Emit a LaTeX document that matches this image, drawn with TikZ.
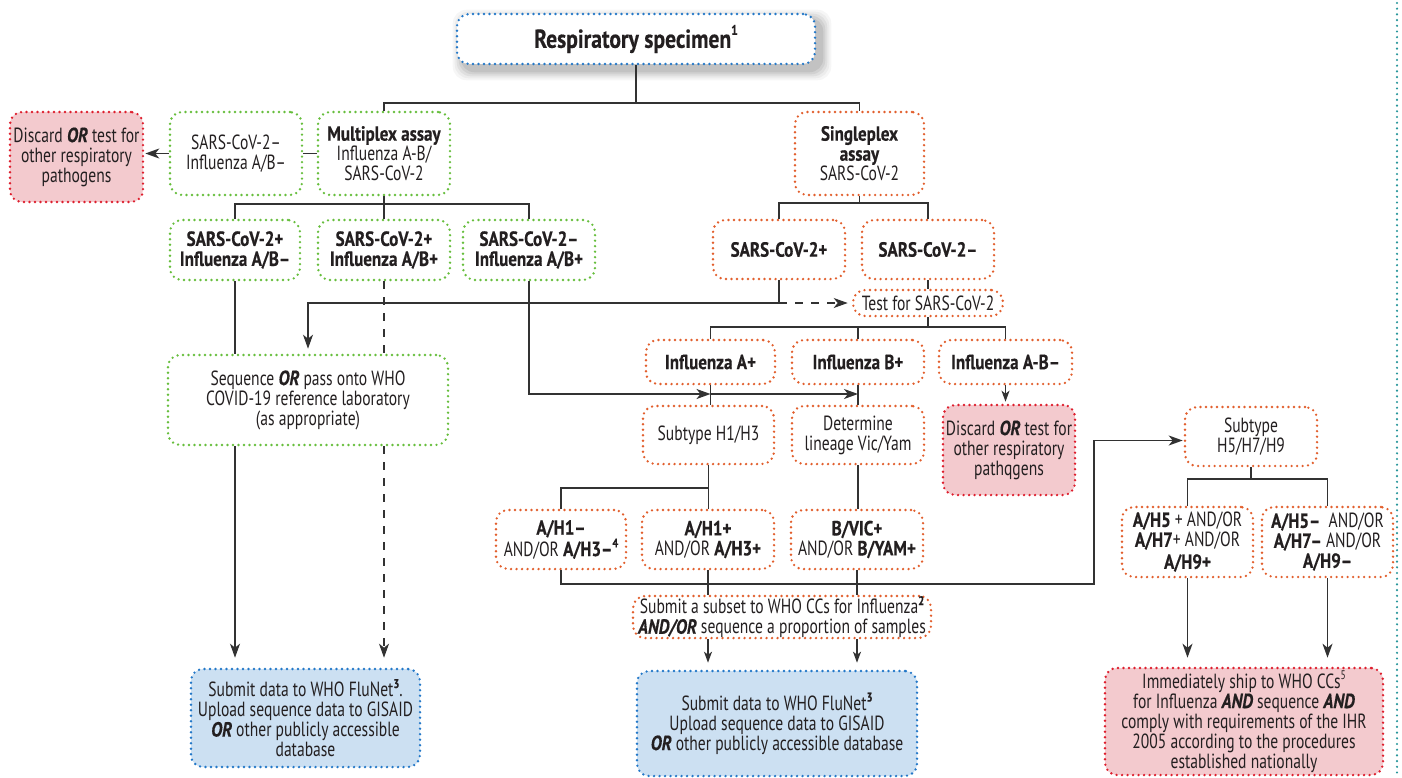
\documentclass[tikz,border=0pt]{standalone}
\usepackage{fontspec}
\setmainfont{PT Sans}[FakeStretch=0.76, BoldFeatures={FakeStretch=0.83, FakeBold=0.4}, BoldItalicFeatures={FakeStretch=0.83, FakeBold=0.4}]
\usetikzlibrary{arrows.meta,backgrounds,calc}
\definecolor{cgreen}{RGB}{102,190,60}
\definecolor{corange}{RGB}{226,94,44}
\definecolor{cblue}{RGB}{35,120,200}
\definecolor{cred}{RGB}{222,30,45}
\definecolor{cpink}{RGB}{243,202,206}
\definecolor{clblue}{RGB}{204,224,242}
\definecolor{cteal}{RGB}{40,150,155}
\definecolor{cline}{RGB}{50,50,50}
\definecolor{ctext}{RGB}{35,31,32}
\newcommand\bi[1]{\textbf{\textit{#1}}}
\newcommand\sups[1]{\raisebox{0.42em}{\fontsize{12.5}{12}\selectfont #1}}
\newcommand\fsnorm{\fontsize{20.5}{20}\selectfont}
\newcommand\fstitle{\fontsize{26}{28}\selectfont}
\tikzset{
  box/.style={rounded corners=12pt, line width=2.6pt, dash pattern=on 0pt off 5.5pt,
    line cap=round, inner sep=0pt, align=center, text=ctext, font=\fsnorm},
  wh/.style 2 args={minimum width=#1pt, minimum height=#2pt},
  gbox/.style={box, draw=cgreen},
  obox/.style={box, draw=corange},
  bbox/.style={box, draw=cblue},
  rbox/.style={box, draw=cred, fill=cpink},
  lbbox/.style={box, draw=cblue, fill=clblue},
  conn/.style={draw=cline, line width=1.4pt},
  arr/.style={conn, -{Stealth[length=14pt,width=10pt,inset=4pt]}},
  arrs/.style={conn, -{Stealth[length=11pt,width=8pt,inset=3pt]}},
  dsh/.style={dash pattern=on 8pt off 8pt},
}
\begin{document}
\begin{tikzpicture}[x=1pt,y=-1pt]
\useasboundingbox (0,0) rectangle (1402,778);
% ---------- nodes ----------
\node[bbox, fill=white, wh={358}{50}, font=\fstitle] (spec) at (636,39) {\textbf{Respiratory specimen\raisebox{0.5em}{\fontsize{14}{14}\selectfont 1}}};
\node[rbox, wh={133}{90}] (disc1) at (76.5,157) {Discard \bi{OR} test for\\other respiratory\\pathogens};
\node[gbox, wh={132}{83}] (neg1) at (236,153.5) {SARS-CoV-2–\\Influenza A/B–};
\node[gbox, wh={132}{83}] (multi) at (384,153.5) {\textbf{Multiplex assay}\\Influenza A-B/\\SARS-CoV-2};
\node[obox, wh={129}{83}] (single) at (859.5,153.5) {\textbf{Singleplex}\\\textbf{assay}\\SARS-CoV-2};
\node[gbox, wh={130}{60}] (pp1) at (235,250) {\textbf{SARS-CoV-2+}\\\textbf{Influenza A/B–}};
\node[gbox, wh={132}{60}] (pp2) at (384,250) {\textbf{SARS-CoV-2+}\\\textbf{Influenza A/B+}};
\node[gbox, wh={132}{60}] (mp) at (529,250) {\textbf{SARS-CoV-2–}\\\textbf{Influenza A/B+}};
\node[obox, wh={132}{59}] (scp) at (779,249.5) {\textbf{SARS-CoV-2+}};
\node[obox, wh={132}{59}] (scn) at (928,249.5) {\textbf{SARS-CoV-2–}};
\node[obox, wh={150}{26}] (test) at (928,303) {Test for SARS-CoV-2};
\node[obox, wh={129}{44}] (infA) at (710.5,362) {\textbf{Influenza A+}};
\node[obox, wh={132}{44}] (infB) at (858,362) {\textbf{Influenza B+}};
\node[obox, wh={133}{44}] (infAB) at (1005.5,362) {\textbf{Influenza A-B–}};
\node[rbox, wh={132}{90}] (disc2) at (1009,450) {Discard \bi{OR} test for\\other respiratory\\pathqgens};
\node[gbox, wh={280}{90}] (seq) at (308,400) {Sequence \bi{OR} pass onto WHO\\COVID-19 reference laboratory\\(as appropriate)};
\node[obox, wh={131}{58}] (subH1) at (708.5,435) {Subtype H1/H3};
\node[obox, wh={132}{58}] (det) at (858,435) {Determine\\lineage Vic/Yam};
\node[obox, wh={132}{59}] (h5) at (1251,436.5) {Subtype\\H5/H7/H9};
\node[obox, wh={130}{59}] (h1n) at (561,539.5) {\textbf{A/H1–}\\AND/OR \textbf{A/H3–\sups{4}}};
\node[obox, wh={132}{59}] (h1p) at (708,539.5) {\textbf{A/H1+}\\AND/OR \textbf{A/H3+}};
\node[obox, wh={132}{59}] (bvic) at (857,539.5) {\textbf{B/VIC+}\\AND/OR \textbf{B/YAM+}};
\node[obox, wh={131}{70}] (h5p) at (1187.5,542) {\textbf{A/H5} + AND/OR\\\textbf{A/H7}+ AND/OR\\[2pt]\textbf{A/H9+}};
\node[obox, wh={131}{70}] (h5n) at (1327.5,542) {\textbf{A/H5–}\ \ AND/OR\\\textbf{A/H7–} AND/OR\\\textbf{A/H9–}};
\node[obox, wh={298}{42}] (sub) at (782,617) {Submit a subset to WHO CCs for Influenza\sups{\textbf{2}}\\\bi{AND/OR} sequence a proportion of samples};
\node[lbbox, wh={229}{98}] (blue1) at (305.5,718) {Submit data to WHO FluNet\sups{\textbf{3}}.\\Upload sequence data to GISAID\\\bi{OR} other publicly accessible\\database};
\node[lbbox, wh={280}{105}] (blue2) at (777,723.5) {Submit data to WHO FluNet\sups{\textbf{3}}\\Upload sequence data to GISAID\\\bi{OR} other publicly accessible database};
\node[rbox, wh={278}{107}] (red3) at (1244,721.5) {Immediately ship to WHO CCs\sups{5}\\for Influenza \bi{AND} sequence \bi{AND}\\comply with requirements of the IHR\\2005 according to the procedures\\established nationally};
% ---------- shadow + background ----------
\begin{scope}[on background layer]
\fill[white] (0,0) rectangle (1402,778);
\foreach \s/\o in {9/0.035,7/0.04,5/0.05,3/0.06,1/0.07}
  \fill[black,opacity=\o,rounded corners=14pt] ($(spec.north west)+(6-\s,6-\s)$) rectangle ($(spec.south east)+(6+\s,6+\s)$);
\end{scope}
% ---------- separator ----------
\coordinate (sepTop) at (1397,3);
\coordinate (sepBot) at (1397,778);
\draw[cteal, line width=2.4pt, dash pattern=on 0pt off 5.7pt, line cap=round] (sepTop) -- (sepBot);
% ---------- connectors ----------
\coordinate (h1) at (0,103);
\draw[conn] (spec.south) -- (spec.south |- h1);
\draw[conn] (multi.north) |- (single.north |- h1) -- (single.north);
\draw[conn] (neg1.east) -- (multi.west);
\draw[arr, shorten >=1pt] (neg1.west) -- (neg1.west -| disc1.east);
\coordinate (h2) at (0,204);
\draw[conn] (multi.south) -- (multi.south |- h2);
\draw[conn] (pp1.north) |- (mp.north |- h2) -- (mp.north);
\draw[conn] (pp2.north) -- (pp2.north |- h2);
\coordinate (h3) at (0,203);
\draw[conn] (single.south) -- (single.south |- h3);
\draw[conn] (scp.north) |- (scn.north |- h3) -- (scn.north);
\coordinate (j1) at (scp.south |- test.west);
\draw[conn] (scp.south) -- (j1);
\draw[arr, shorten >=5pt] (j1) -| (seq.north);
\draw[arr, dsh, shorten >=4pt] (j1) -- (test.west);
\draw[conn] (scn.south) -- (scn.south |- test.north);
\coordinate (h4) at (0,327);
\draw[conn] (test.south) -- (test.south |- h4);
\draw[conn] (infA.north) |- (infAB.north |- h4) -- (infAB.north);
\draw[conn] (infB.north) -- (infB.north |- h4);
\draw[arrs, shorten >=2pt] (infAB.south) -- (infAB.south |- disc2.north);
\draw[conn] (infA.south) -- (infA.south |- subH1.north);
\draw[conn] (infB.south) -- (det.north);
\coordinate (h5y) at (0,394);
\draw[arr] (mp.south) |- (infA.south |- h5y);
\draw[arr] (infA.south |- h5y) -- (infB.south |- h5y);
\coordinate (h6) at (0,488);
\draw[conn] (subH1.south) -- (subH1.south |- h1p.north);
\draw[conn] (h1n.north) |- (subH1.south |- h6);
\draw[conn] (det.south) -- (det.south |- bvic.north);
\coordinate (h7) at (1094,584);
\draw[arr, shorten >=1pt] (h1n.south) |- (h7) |- ([yshift=-4pt]h5.west);
\draw[conn] (h1p.south) -- (h1p.south |- sub.north);
\draw[conn] (bvic.south) -- (bvic.south |- sub.north);
\draw[arrs, shorten >=7pt] (sub.south -| h1p.south) -- (blue2.north -| h1p.south);
\draw[arrs, shorten >=7pt] (sub.south -| bvic.south) -- (blue2.north -| bvic.south);
\coordinate (h8) at (0,479);
\draw[conn] (h5.south) -- (h5.south |- h8);
\draw[conn] (h5p.north) |- (h5n.north |- h8) -- (h5n.north);
\draw[arr, shorten >=9pt] (h5p.south) -- (h5p.south |- red3.north);
\draw[arr, shorten >=9pt] (h5n.south) -- (h5n.south |- red3.north);
\draw[conn] (pp1.south) -- (pp1.south |- seq.north);
\draw[arr, shorten >=10pt] (seq.south -| pp1.south) -- (blue1.north -| pp1.south);
\draw[conn, dsh] (pp2.south) -- (pp2.south |- seq.north);
\draw[arr, dsh, shorten >=10pt] (seq.south -| pp2.south) -- (blue1.north -| pp2.south);
\end{tikzpicture}
\end{document}
